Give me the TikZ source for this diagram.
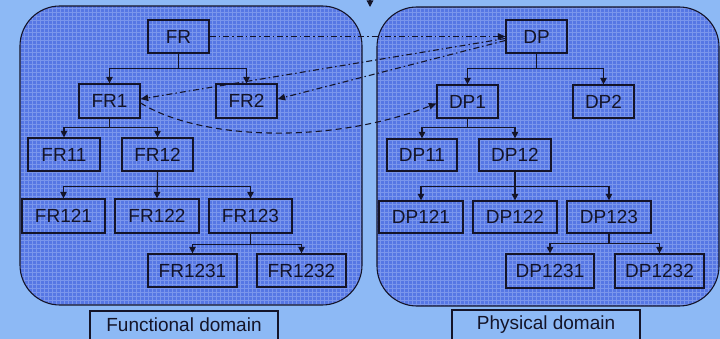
\documentclass[tikz,border=0pt]{standalone}
\usepackage{fontspec}
\setmainfont{Liberation Sans}
\usetikzlibrary{arrows.meta,positioning,calc}
\definecolor{bgblue}{HTML}{8DB9F5}
\definecolor{panelblue}{HTML}{5677E4}
\definecolor{gridblue}{HTML}{92ABF2}
\definecolor{edgeink}{HTML}{141428}
\tikzset{
  panel/.style={draw=edgeink, line width=1.1pt, rounded corners=40pt},
  box/.style={draw=edgeink, line width=1.3pt, inner sep=0pt, font=\fontsize{19}{21}\selectfont, text=edgeink},
  treeedge/.style={draw=edgeink, line width=1.2pt, -{Triangle[length=6.5pt,width=6.5pt]}},
  dashdot/.style={draw=edgeink, line width=1.1pt, dash pattern=on 6pt off 3pt on 1.5pt off 3pt, -{Triangle[length=7.5pt,width=6.5pt]}},
  dashline/.style={draw=edgeink, line width=1.1pt, dash pattern=on 6pt off 4pt, -{Triangle[length=7.5pt,width=6.5pt]}},
}
\begin{document}
\begin{tikzpicture}[x=1pt,y=-1pt]
\useasboundingbox (0,0) rectangle (720,339);
\fill[bgblue] (0,0) rectangle (720,339);
% panels
\begin{scope}
  \clip[rounded corners=40pt] (20,6) rectangle (362,305);
  \fill[panelblue] (20,6) rectangle (362,305);
  \draw[gridblue, line width=0.7pt, opacity=0.6] (20,6) grid[step=4pt] (362,305);
\end{scope}
\draw[panel] (20,6) rectangle (362,305);
\begin{scope}
  \clip[rounded corners=40pt] (377,7) rectangle (719,306);
  \fill[panelblue] (377,7) rectangle (719,306);
  \draw[gridblue, line width=0.7pt, opacity=0.6] (377,7) grid[step=4pt] (719,306);
\end{scope}
\draw[panel] (377,7) rectangle (719,306);
% labels
\node[box, fill=bgblue, minimum width=188pt, minimum height=34pt] (fdom) at (184,328) {};
\node[font=\fontsize{19}{21}\selectfont, text=edgeink] (fdomt) at (184,325) {Functional domain};
\node[box, fill=bgblue, minimum width=188pt, minimum height=34pt] (pdom) at (546,327) {};
\node[font=\fontsize{19}{21}\selectfont, text=edgeink] (pdomt) at (546,325) {Physical domain};
% left tree
\node[box, minimum width=61pt, minimum height=33pt] (FR) at (178.5,36.5) {FR};
\node[box, minimum width=61pt, minimum height=34pt] (FR1) at (109.5,101) {FR1};
\node[box, minimum width=61pt, minimum height=34pt] (FR2) at (246.5,101) {FR2};
\node[box, minimum width=72pt, minimum height=33pt] (FR11) at (64,154.5) {FR11};
\node[box, minimum width=71pt, minimum height=33pt] (FR12) at (157.5,154.5) {FR12};
\node[box, minimum width=83pt, minimum height=34pt] (FR121) at (63.5,216) {FR121};
\node[box, minimum width=84pt, minimum height=34pt] (FR122) at (157,216) {FR122};
\node[box, minimum width=83pt, minimum height=34pt] (FR123) at (250.5,216) {FR123};
\node[box, minimum width=89pt, minimum height=33pt] (FR1231) at (192.5,270.5) {FR1231};
\node[box, minimum width=89pt, minimum height=33pt] (FR1232) at (301.5,270.5) {FR1232};
% right tree
\node[box, minimum width=61pt, minimum height=33pt] (DP) at (536.5,36.5) {DP};
\node[box, minimum width=61pt, minimum height=33pt] (DP1) at (467.5,101.5) {DP1};
\node[box, minimum width=61pt, minimum height=33pt] (DP2) at (603.5,101.5) {DP2};
\node[box, minimum width=70pt, minimum height=32pt] (DP11) at (422,155) {DP11};
\node[box, minimum width=72pt, minimum height=32pt] (DP12) at (515,155) {DP12};
\node[box, minimum width=84pt, minimum height=32pt] (DP121) at (421,217) {DP121};
\node[box, minimum width=84pt, minimum height=32pt] (DP122) at (515,217) {DP122};
\node[box, minimum width=84pt, minimum height=32pt] (DP123) at (609,217) {DP123};
\node[box, minimum width=88pt, minimum height=34pt] (DP1231) at (550,271) {DP1231};
\node[box, minimum width=89pt, minimum height=34pt] (DP1232) at (659.5,271) {DP1232};
% tree edges left
\draw[treeedge] (FR.south) -- ++(0,15) -| (FR1.north);
\draw[treeedge] (FR.south) -- ++(0,15) -| (FR2.north);
\draw[treeedge] (FR1.south) -- ++(0,9) -| (FR11.north);
\draw[treeedge] (FR1.south) -- ++(0,9) -| (FR12.north);
\draw[treeedge] (FR12.south) -- ++(0,15) -| (FR121.north);
\draw[treeedge] (FR12.south) -- (FR122.north);
\draw[treeedge] (FR12.south) -- ++(0,15) -| (FR123.north);
\draw[treeedge] (FR123.south) -- ++(0,11) -| (FR1231.north);
\draw[treeedge] (FR123.south) -- ++(0,11) -| (FR1232.north);
% tree edges right
\draw[treeedge] (DP.south) -- ++(0,15) -| (DP1.north);
\draw[treeedge] (DP.south) -- ++(0,15) -| (DP2.north);
\draw[treeedge] (DP1.south) -- ++(0,9) -| (DP11.north);
\draw[treeedge] (DP1.south) -- ++(0,9) -| (DP12.north);
\draw[treeedge] (DP12.south) -- ++(0,15) -| (DP121.north);
\draw[treeedge] (DP12.south) -- (DP122.north);
\draw[treeedge] (DP12.south) -- ++(0,15) -| (DP123.north);
\draw[treeedge] (DP123.south) -- ++(0,10) -| (DP1231.north);
\draw[treeedge] (DP123.south) -- ++(0,10) -| (DP1232.north);
% mapping connectors
\draw[dashdot] (FR.east) -- (DP.west);
\draw[dashdot] ([yshift=-2pt]DP.west) -- ([yshift=2pt]FR1.east);
\draw[dashdot] ([yshift=-4pt]DP.west) -- ([yshift=2pt]FR2.east);
\draw[dashline] ([yshift=-2pt]FR1.east) .. controls (200,140) and (330,145) .. ([yshift=-2pt]DP1.west);
% top fragment arrow
\coordinate (topin) at (370,-12);
\coordinate (topout) at (370,7);
\draw[treeedge] (topin) -- (topout);
\end{tikzpicture}
\end{document}
